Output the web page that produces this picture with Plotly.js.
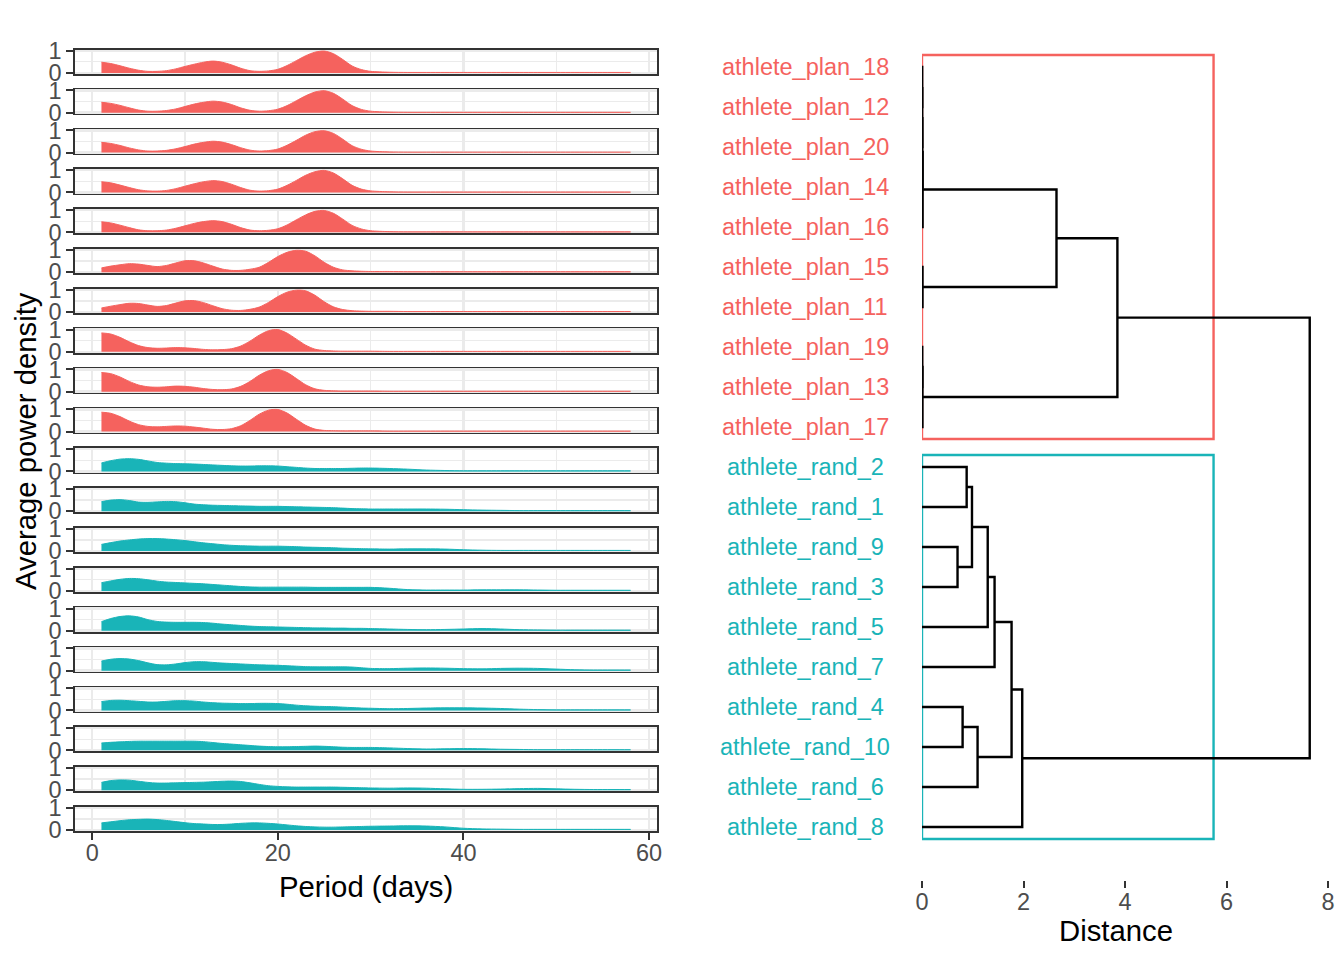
<!DOCTYPE html>
<html>
<head>
<meta charset="utf-8">
<script src="https://cdn.plot.ly/plotly-3.0.1.min.js"></script>
<style>html,body{margin:0;padding:0;background:#fff;}#chart{width:1344px;height:960px;}</style>
</head>
<body>
<div id="chart"></div>
<script>
// ---------------- DATA ----------------
const period = [1,2,3,4,5,6,7,8,9,10,11,12,13,14,15,16,17,18,19,20,21,22,23,24,25,26,27,28,29,30,32,34,36,38,40,42,44,46,48,50,52,54,56,58];

const athletes = ["athlete_plan_18","athlete_plan_12","athlete_plan_20","athlete_plan_14","athlete_plan_16",
                  "athlete_plan_15","athlete_plan_11","athlete_plan_19","athlete_plan_13","athlete_plan_17",
                  "athlete_rand_2","athlete_rand_1","athlete_rand_9","athlete_rand_3","athlete_rand_5",
                  "athlete_rand_7","athlete_rand_4","athlete_rand_10","athlete_rand_6","athlete_rand_8"];
const groups = ["plan","plan","plan","plan","plan","plan","plan","plan","plan","plan",
                "rand","rand","rand","rand","rand","rand","rand","rand","rand","rand"];

const power_plan_18 = [0.48,0.42,0.32,0.21,0.12,0.07,0.07,0.10,0.18,0.29,0.39,0.48,0.53,0.48,0.36,0.21,0.10,0.07,0.09,0.16,0.33,0.55,0.77,0.93,0.98,0.86,0.60,0.31,0.15,0.07,0.03,0.02,0.02,0.02,0.02,0.02,0.02,0.02,0.02,0.02,0.02,0.02,0.02,0.02];
const power_plan_12 = [0.47,0.42,0.33,0.22,0.12,0.07,0.07,0.10,0.17,0.28,0.39,0.47,0.52,0.48,0.37,0.22,0.11,0.07,0.09,0.16,0.32,0.54,0.76,0.93,0.99,0.87,0.61,0.32,0.15,0.07,0.03,0.02,0.02,0.02,0.02,0.02,0.02,0.02,0.02,0.02,0.02,0.02,0.02,0.02];
const power_plan_20 = [0.46,0.41,0.32,0.21,0.12,0.07,0.07,0.10,0.17,0.27,0.38,0.46,0.51,0.47,0.36,0.22,0.11,0.07,0.09,0.16,0.33,0.55,0.78,0.94,0.98,0.86,0.60,0.31,0.15,0.07,0.03,0.02,0.02,0.02,0.02,0.02,0.02,0.02,0.02,0.02,0.02,0.02,0.02,0.02];
const power_plan_14 = [0.48,0.43,0.33,0.22,0.12,0.07,0.06,0.09,0.17,0.28,0.39,0.48,0.53,0.49,0.37,0.22,0.10,0.06,0.08,0.15,0.32,0.54,0.77,0.93,0.99,0.87,0.61,0.32,0.15,0.07,0.03,0.02,0.02,0.02,0.02,0.02,0.02,0.02,0.02,0.02,0.02,0.02,0.02,0.02];
const power_plan_16 = [0.47,0.42,0.32,0.21,0.11,0.07,0.07,0.10,0.18,0.29,0.40,0.48,0.52,0.48,0.36,0.21,0.10,0.07,0.09,0.16,0.33,0.56,0.78,0.94,0.98,0.85,0.59,0.31,0.15,0.07,0.03,0.02,0.02,0.02,0.02,0.02,0.02,0.02,0.02,0.02,0.02,0.02,0.02,0.02];
const power_plan_15 = [0.19,0.27,0.33,0.38,0.36,0.30,0.25,0.30,0.41,0.51,0.51,0.41,0.27,0.14,0.08,0.08,0.13,0.22,0.44,0.70,0.89,0.98,0.94,0.73,0.44,0.22,0.10,0.06,0.04,0.03,0.03,0.02,0.02,0.02,0.02,0.02,0.02,0.02,0.02,0.02,0.02,0.02,0.02,0.02];
const power_plan_11 = [0.18,0.26,0.33,0.39,0.38,0.31,0.25,0.29,0.40,0.50,0.51,0.42,0.28,0.15,0.08,0.07,0.12,0.22,0.43,0.69,0.89,0.98,0.95,0.75,0.46,0.23,0.11,0.06,0.04,0.03,0.03,0.02,0.02,0.02,0.02,0.02,0.02,0.02,0.02,0.02,0.02,0.02,0.02,0.02];
const power_plan_19 = [0.85,0.80,0.65,0.45,0.28,0.19,0.16,0.17,0.19,0.18,0.15,0.11,0.09,0.10,0.14,0.26,0.48,0.75,0.95,1.00,0.84,0.57,0.30,0.12,0.06,0.04,0.03,0.03,0.03,0.03,0.02,0.02,0.02,0.02,0.02,0.02,0.02,0.02,0.02,0.02,0.02,0.02,0.02,0.02];
const power_plan_13 = [0.86,0.81,0.66,0.46,0.30,0.22,0.20,0.22,0.25,0.24,0.20,0.14,0.10,0.09,0.12,0.24,0.46,0.74,0.94,1.00,0.86,0.59,0.31,0.13,0.06,0.04,0.03,0.03,0.03,0.03,0.02,0.02,0.02,0.02,0.02,0.02,0.02,0.02,0.02,0.02,0.02,0.02,0.02,0.02];
const power_plan_17 = [0.87,0.82,0.67,0.47,0.31,0.23,0.21,0.23,0.25,0.24,0.20,0.15,0.10,0.09,0.13,0.26,0.50,0.78,0.96,0.99,0.83,0.55,0.28,0.11,0.05,0.04,0.03,0.03,0.03,0.03,0.02,0.02,0.02,0.02,0.02,0.02,0.02,0.02,0.02,0.02,0.02,0.02,0.02,0.02];
const power_rand_2  = [0.38,0.48,0.55,0.57,0.54,0.47,0.40,0.37,0.35,0.34,0.33,0.31,0.29,0.27,0.25,0.24,0.24,0.25,0.25,0.24,0.21,0.18,0.15,0.13,0.13,0.13,0.13,0.14,0.15,0.15,0.13,0.10,0.06,0.04,0.03,0.03,0.03,0.03,0.03,0.03,0.03,0.03,0.03,0.03];
const power_rand_1  = [0.43,0.50,0.52,0.48,0.41,0.40,0.42,0.44,0.43,0.38,0.32,0.29,0.27,0.26,0.25,0.24,0.23,0.22,0.22,0.22,0.21,0.20,0.19,0.18,0.17,0.16,0.14,0.12,0.11,0.10,0.10,0.10,0.10,0.09,0.07,0.05,0.04,0.03,0.03,0.03,0.03,0.03,0.03,0.03];
const power_rand_9  = [0.30,0.38,0.45,0.50,0.54,0.56,0.56,0.54,0.51,0.47,0.42,0.37,0.33,0.29,0.26,0.24,0.23,0.22,0.22,0.22,0.21,0.20,0.18,0.17,0.16,0.15,0.13,0.12,0.11,0.10,0.09,0.10,0.10,0.09,0.06,0.04,0.03,0.03,0.03,0.03,0.03,0.03,0.03,0.03];
const power_rand_3  = [0.37,0.45,0.52,0.56,0.55,0.50,0.44,0.40,0.38,0.36,0.34,0.32,0.29,0.26,0.23,0.20,0.18,0.17,0.17,0.17,0.17,0.17,0.17,0.16,0.16,0.16,0.16,0.16,0.16,0.16,0.12,0.06,0.04,0.04,0.04,0.05,0.05,0.05,0.04,0.03,0.03,0.03,0.03,0.03];
const power_rand_5  = [0.41,0.55,0.64,0.67,0.62,0.50,0.42,0.39,0.38,0.38,0.38,0.37,0.34,0.30,0.27,0.24,0.21,0.19,0.18,0.17,0.16,0.15,0.14,0.13,0.13,0.12,0.12,0.11,0.11,0.10,0.08,0.06,0.05,0.06,0.08,0.10,0.08,0.05,0.04,0.03,0.03,0.03,0.03,0.03];
const power_rand_7  = [0.43,0.51,0.54,0.52,0.45,0.35,0.27,0.26,0.30,0.36,0.40,0.40,0.37,0.34,0.32,0.30,0.28,0.26,0.25,0.24,0.22,0.20,0.18,0.17,0.17,0.17,0.17,0.16,0.13,0.10,0.09,0.11,0.12,0.11,0.09,0.08,0.10,0.11,0.10,0.07,0.04,0.03,0.03,0.03];
const power_rand_4  = [0.40,0.45,0.46,0.44,0.41,0.38,0.38,0.41,0.44,0.44,0.42,0.38,0.35,0.33,0.32,0.31,0.31,0.32,0.32,0.31,0.28,0.24,0.21,0.19,0.18,0.17,0.15,0.13,0.11,0.10,0.08,0.09,0.11,0.12,0.12,0.11,0.09,0.06,0.04,0.03,0.03,0.03,0.03,0.03];
const power_rand_10 = [0.33,0.36,0.38,0.40,0.41,0.41,0.41,0.41,0.41,0.41,0.41,0.39,0.35,0.31,0.28,0.25,0.22,0.19,0.17,0.16,0.16,0.17,0.18,0.19,0.18,0.16,0.14,0.13,0.13,0.13,0.11,0.08,0.06,0.07,0.08,0.07,0.05,0.04,0.03,0.03,0.03,0.03,0.03,0.03];
const power_rand_6  = [0.35,0.43,0.46,0.45,0.40,0.35,0.32,0.32,0.33,0.34,0.35,0.36,0.38,0.40,0.41,0.39,0.33,0.26,0.20,0.17,0.15,0.14,0.14,0.14,0.14,0.14,0.13,0.12,0.11,0.10,0.09,0.10,0.09,0.06,0.04,0.04,0.05,0.07,0.08,0.06,0.04,0.03,0.03,0.03];
const power_rand_8  = [0.32,0.37,0.42,0.46,0.48,0.49,0.47,0.43,0.38,0.33,0.29,0.27,0.25,0.25,0.27,0.30,0.32,0.32,0.30,0.27,0.23,0.19,0.16,0.14,0.13,0.13,0.14,0.15,0.16,0.17,0.18,0.19,0.18,0.14,0.08,0.05,0.04,0.03,0.03,0.03,0.03,0.03,0.03,0.03];

const powerSeries = [power_plan_18,power_plan_12,power_plan_20,power_plan_14,power_plan_16,
                     power_plan_15,power_plan_11,power_plan_19,power_plan_13,power_plan_17,
                     power_rand_2,power_rand_1,power_rand_9,power_rand_3,power_rand_5,
                     power_rand_7,power_rand_4,power_rand_10,power_rand_6,power_rand_8];

// hierarchical clustering (hclust-style): negative = leaf (1-based, in display order), positive = earlier merge
const mergeLeft   = [-1, 1, 2, 3, -6, 4, -8, 7, 6, -11, -13, 10, 12, 13, -17, 15, 14, 17, 9];
const mergeRight  = [-2, -3, -4, -5, -7, 5, -9, -10, 8, -12, -14, 11, -15, -16, -18, -19, 16, -20, 18];
const mergeHeight = [0.004, 0.006, 0.008, 0.012, 0.010, 2.65, 0.005, 0.009, 3.85, 0.88, 0.70, 0.985, 1.295, 1.43, 0.80, 1.095, 1.765, 1.975, 7.64];

const xTicks = [0, 20, 40, 60];
const yTicks = [0, 1];
const distTicks = [0, 2, 4, 6, 8];

// ---------------- STYLE ----------------
const W = 1344, H = 960;
const colors = {plan: "#F5625E", rand: "#19B4B8"};
const FONT = "Liberation Sans, Arial, Helvetica, sans-serif";
const tickFont = {family: FONT, size: 23.5, color: "#4D4D4D"};
const titleFont = {family: FONT, size: 29.3, color: "#000000"};
const gridColor = "#EBEBEB";

const traces = [];
const layout = {
  width: W, height: H,
  margin: {l: 0, r: 0, t: 0, b: 0},
  paper_bgcolor: "#ffffff", plot_bgcolor: "#ffffff",
  showlegend: false,
  font: {family: FONT},
  annotations: []
};

const fx0 = 75, fx1 = 657;
const n = athletes.length;
for (let i = 0; i < n; i++) {
  const k = i + 1;
  const top = 49.5 + 39.85 * i, bot = top + 24.5;
  const xa = "xaxis" + k, ya = "yaxis" + k;
  const last = (i === n - 1);
  layout[xa] = {
    domain: [fx0 / W, fx1 / W], anchor: "y" + k, range: [-1.85, 60.85],
    tickvals: xTicks, showticklabels: last, ticks: last ? "outside" : "",
    ticklen: 7, tickwidth: 2, tickcolor: "#333333", tickfont: tickFont, ticklabelstandoff: -7,
    showgrid: true, gridcolor: gridColor, gridwidth: 2.6,
    minor: {tickvals: [10, 30, 50], showgrid: true, gridcolor: gridColor, gridwidth: 1.3, ticks: ""},
    showline: true, mirror: true, linecolor: "#333333", linewidth: 1.6, zeroline: false,
    fixedrange: true
  };
  layout[ya] = {
    domain: [1 - bot / H, 1 - top / H], anchor: "x" + k, range: [-0.05, 1.05],
    tickvals: yTicks, ticktext: ["0", "1"], ticks: "outside", ticklen: 7, tickwidth: 2, tickcolor: "#333333",
    tickfont: tickFont,
    showgrid: true, gridcolor: gridColor, gridwidth: 2.6,
    minor: {tickvals: [0.5], showgrid: true, gridcolor: gridColor, gridwidth: 1.3, ticks: ""},
    showline: true, mirror: true, linecolor: "#333333", linewidth: 1.6, zeroline: false,
    fixedrange: true
  };
  const c = colors[groups[i]];
  traces.push({
    type: "scatter", mode: "lines", x: period, y: powerSeries[i],
    xaxis: "x" + k, yaxis: "y" + k,
    fill: "tozeroy", fillcolor: c,
    line: {color: c, width: 1, shape: "spline", smoothing: 0.8},
    hoverinfo: "skip"
  });
}

// ---------------- DENDROGRAM ----------------
const dk = n + 1;
layout["xaxis" + dk] = {
  domain: [922 / W, 1328 / W], anchor: "y" + dk, range: [0, 8],
  tickvals: distTicks, ticks: "outside", ticklen: 7, tickwidth: 2, tickcolor: "#333333",
  tickfont: tickFont, ticklabelstandoff: -6,
  showgrid: false, zeroline: false, showline: false, fixedrange: true
};
layout["yaxis" + dk] = {
  domain: [1 - 880 / H, 1 - 40 / H], anchor: "x" + dk, range: [20.325, -0.675],
  visible: false, fixedrange: true
};

function nodePos(id, mp) { return id < 0 ? {y: -id - 1, h: 0} : mp[id - 1]; }
const mergePos = [];
const dx = [], dy = [];
for (let j = 0; j < mergeHeight.length; j++) {
  const a = nodePos(mergeLeft[j], mergePos), b = nodePos(mergeRight[j], mergePos);
  const h = mergeHeight[j];
  dx.push(a.h, h, h, b.h, null);
  dy.push(a.y, a.y, b.y, b.y, null);
  mergePos.push({y: (a.y + b.y) / 2, h: h});
}
const sortedH = mergeHeight.slice().sort((p, q) => q - p);
const cutH = (sortedH[0] + sortedH[1]) / 2;   // cut for k = 2 clusters
["plan", "rand"].forEach(g => {
  const idx = groups.map((v, i) => v === g ? i : -1).filter(v => v >= 0);
  const y0 = Math.min(...idx) - 0.3, y1 = Math.max(...idx) + 0.3;
  traces.push({
    type: "scatter", mode: "lines", x: [0, cutH, cutH, 0, 0], y: [y0, y0, y1, y1, y0],
    xaxis: "x" + dk, yaxis: "y" + dk, cliponaxis: false,
    line: {color: colors[g], width: 2.4}, hoverinfo: "skip"
  });
});
traces.push({
  type: "scatter", mode: "lines", x: dx, y: dy, xaxis: "x" + dk, yaxis: "y" + dk,
  cliponaxis: false, line: {color: "#000000", width: 2.4}, hoverinfo: "skip", connectgaps: false
});

athletes.forEach((name, i) => {
  layout.annotations.push({
    text: name, x: 805 / W, xref: "paper", y: i, yref: "y" + dk,
    xanchor: "center", yanchor: "middle", showarrow: false,
    font: {family: FONT, size: 23.5, color: colors[groups[i]]}
  });
});

// titles
layout.annotations.push({text: "Period (days)", x: 366 / W, y: 1 - 886 / H, xref: "paper", yref: "paper",
  xanchor: "center", yanchor: "middle", showarrow: false, font: titleFont});
layout.annotations.push({text: "Average power density", x: 25 / W, y: 1 - 441 / H, xref: "paper", yref: "paper",
  xanchor: "center", yanchor: "middle", textangle: -90, showarrow: false, font: titleFont});
layout.annotations.push({text: "Distance", x: 1116 / W, y: 1 - 930 / H, xref: "paper", yref: "paper",
  xanchor: "center", yanchor: "middle", showarrow: false, font: titleFont});

Plotly.newPlot("chart", traces, layout, {displayModeBar: false, staticPlot: true});
</script>
</body>
</html>
